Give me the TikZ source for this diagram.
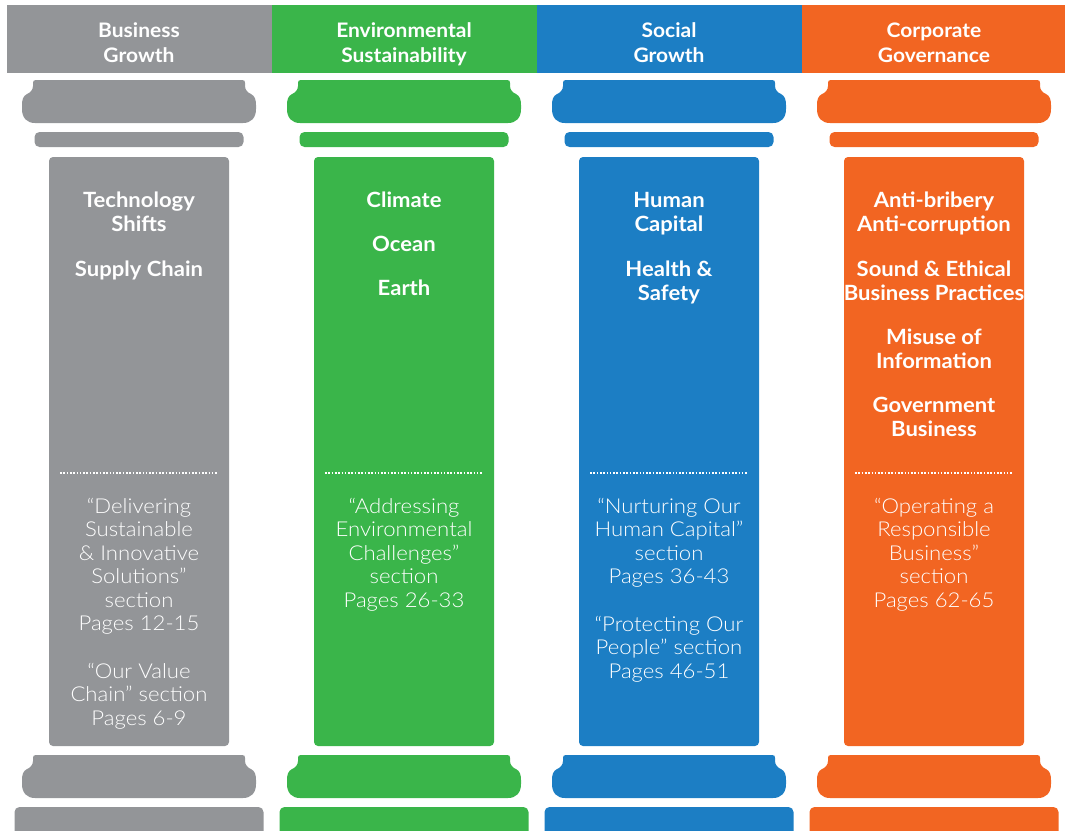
\documentclass[tikz,border=0pt]{standalone}
\usepackage{fontspec}
\setmainfont[FakeStretch=1.05]{Lato}
\IfFontExistsTF{Lato Light}{\newfontfamily\lightfont[FakeStretch=1.08]{Lato Light}}{\newfontfamily\lightfont[FakeStretch=1.08]{Lato}}
\definecolor{cgray}{HTML}{939598}
\definecolor{cgreen}{HTML}{3AB54A}
\definecolor{cblue}{HTML}{1C7EC4}
\definecolor{corange}{HTML}{F26522}
\tikzset{
  hdr/.style={font=\bfseries\fontsize{20}{24}\selectfont, text=white, anchor=base, inner sep=0pt},
  bt/.style={font=\bfseries\fontsize{21}{24}\selectfont, text=white, anchor=base, inner sep=0pt},
  lt/.style={font=\lightfont\fontsize{20.5}{24}\selectfont, text=white, anchor=base, inner sep=0pt},
  colcap/.pic={
    \path[pic actions] (-103,0) -- (103,0) .. controls (105.5,0) and (106,1) .. (106,3) -- (106,6)
      .. controls (106,10) and (109,13) .. (112,14) .. controls (116,16) and (117,20) .. (117,25)
      -- (117,29) .. controls (117,38) and (112,43) .. (104,43) -- (-104,43)
      .. controls (-112,43) and (-117,38) .. (-117,29) -- (-117,25)
      .. controls (-117,20) and (-116,16) .. (-112,14) .. controls (-109,13) and (-106,10) .. (-106,6)
      -- (-106,3) .. controls (-106,1) and (-105.5,0) .. (-103,0) -- cycle;
  },
  dots/.style={white, line width=1.6pt, dash pattern=on 1.6pt off 1.7pt}
}
\begin{document}
\begin{tikzpicture}[x=1pt,y=-1pt]
\useasboundingbox (0,0) rectangle (1065,830);
\foreach \c [count=\i from 0] in {cgray,cgreen,cblue,corange} {
  \pgfmathsetmacro\cx{139+265*\i}
  \fill[\c] (\cx-132.5,5) rectangle (\cx+132.5,73);
  \pic[fill=\c] at (\cx,80) {colcap};
  \fill[\c, rounded corners=5pt] (\cx-104.5,132) rectangle (\cx+104.5,147);
  \fill[\c, rounded corners=4pt] (\cx-90,157) rectangle (\cx+90,746);
  \pic[fill=\c] at (\cx,755) {colcap};
  \fill[\c, rounded corners=5pt] (\cx-124.5,807) rectangle (\cx+124.5,845);
  \draw[dots] (\cx-79,473) -- (\cx+79,473);
}
% headers
\node[hdr] (h1a) at (139,37) {Business};
\node[hdr] (h1b) at (139,62) {Growth};
\node[hdr] (h2a) at (404,37) {Environmental};
\node[hdr] (h2b) at (404,62) {Sustainability};
\node[hdr] (h3a) at (669,37) {Social};
\node[hdr] (h3b) at (669,62) {Growth};
\node[hdr] (h4a) at (934,37) {Corporate};
\node[hdr] (h4b) at (934,62) {Governance};
% gray column
\node[bt] (g1) at (139,207) {Technology};
\node[bt] (g2) at (139,231) {Shifts};
\node[bt] (g3) at (139,276) {Supply Chain};
\node[lt] (g4) at (139,513) {“Delivering};
\node[lt] (g5) at (139,536.5) {Sustainable};
\node[lt] (g6) at (139,560) {\& Innovative};
\node[lt] (g7) at (139,583.5) {Solutions”};
\node[lt] (g8) at (139,607) {section};
\node[lt] (g9) at (139,630.5) {Pages 12-15};
\node[lt] (g10) at (139,678) {“Our Value};
\node[lt] (g11) at (139,701.5) {Chain” section};
\node[lt] (g12) at (139,725) {Pages 6-9};
% green column
\node[bt] (e1) at (404,207) {Climate};
\node[bt] (e2) at (404,251) {Ocean};
\node[bt] (e3) at (404,295) {Earth};
\node[lt] (e4) at (404,513) {“Addressing};
\node[lt] (e5) at (404,536.5) {Environmental};
\node[lt] (e6) at (404,560) {Challenges”};
\node[lt] (e7) at (404,583.5) {section};
\node[lt] (e8) at (404,607) {Pages 26-33};
% blue column
\node[bt] (s1) at (669,207) {Human};
\node[bt] (s2) at (669,231) {Capital};
\node[bt] (s3) at (669,276) {Health \&};
\node[bt] (s4) at (669,300) {Safety};
\node[lt] (s5) at (669,513) {“Nurturing Our};
\node[lt] (s6) at (669,536.5) {Human Capital”};
\node[lt] (s7) at (669,560) {section};
\node[lt] (s8) at (669,583.5) {Pages 36-43};
\node[lt] (s9) at (669,631) {“Protecting Our};
\node[lt] (s10) at (669,654.5) {People” section};
\node[lt] (s11) at (669,678) {Pages 46-51};
% orange column
\node[bt] (c1) at (934,207) {Anti-bribery};
\node[bt] (c2) at (934,231) {Anti-corruption};
\node[bt] (c3) at (934,276) {Sound \& Ethical};
\node[bt] (c4) at (934,300) {Business Practices};
\node[bt] (c5) at (934,344) {Misuse of};
\node[bt] (c6) at (934,368) {Information};
\node[bt] (c7) at (934,412) {Government};
\node[bt] (c8) at (934,436) {Business};
\node[lt] (c9) at (934,513) {“Operating a};
\node[lt] (c10) at (934,536.5) {Responsible};
\node[lt] (c11) at (934,560) {Business”};
\node[lt] (c12) at (934,583.5) {section};
\node[lt] (c13) at (934,607) {Pages 62-65};
\end{tikzpicture}
\end{document}
